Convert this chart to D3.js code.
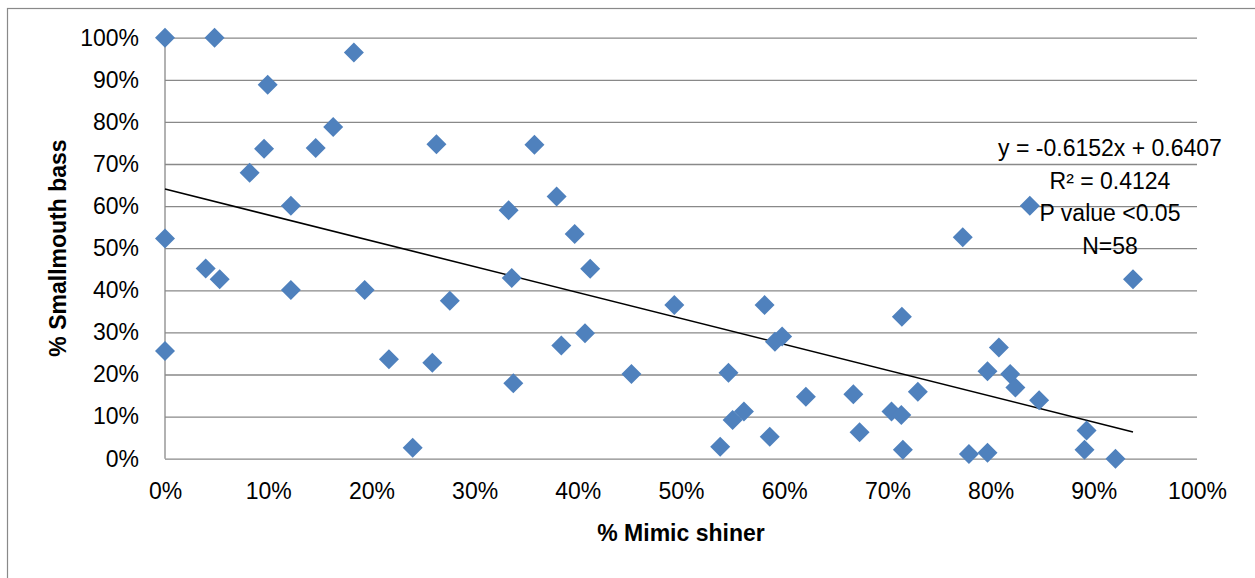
<!DOCTYPE html>
<html lang="en">
<head>
  <meta charset="UTF-8">
  <title>Mimic shiner vs Smallmouth bass</title>
  <style>
    body {
      margin: 0;
      padding: 0;
      background: #fff;
    }
    svg text {
      font-family: "Liberation Sans", Arial, sans-serif;
      fill: #000;
    }
    .axis-title {
      font-weight: bold;
    }
  </style>
</head>
<body>
  <div id="chart"></div>

  <script src="https://d3js.org/d3.v7.min.js"></script>
  <script>
    // data (percent)
    const mimicShiner = [
      0, 4.8, 18.3, 9.95, 16.3, 9.6, 14.6, 8.2, 12.2, 0,
      26.3, 35.8, 37.95, 33.3, 39.7, 3.94, 5.3, 12.2, 19.35, 0,
      21.7, 24.0, 27.6, 25.9, 33.6, 33.75, 41.2, 38.4, 40.7, 45.2,
      49.35, 54.6, 53.8, 55.0, 56.1, 58.1, 59.1, 59.8, 58.6, 62.1,
      66.7, 67.3, 71.4, 70.4, 71.35, 71.5, 72.95, 77.9, 79.7, 79.7,
      80.8, 81.9, 82.4, 84.7, 89.3, 89.1, 92.1, 93.8, 83.8, 77.3
    ];
    const smallmouthBass = [
      100, 100, 96.5, 88.8, 78.8, 73.6, 73.8, 67.9, 60.1, 52.3,
      74.7, 74.6, 62.3, 59.0, 53.4, 45.2, 42.6, 40.1, 40.1, 25.6,
      23.6, 2.6, 37.5, 22.8, 42.9, 17.9, 45.1, 26.9, 29.8, 20.1,
      36.5, 20.4, 2.85, 9.2, 11.2, 36.5, 27.8, 29.0, 5.2, 14.7,
      15.3, 6.3, 33.7, 11.2, 10.4, 2.1, 15.9, 1.1, 1.4, 20.8,
      26.4, 20.1, 16.9, 13.9, 6.7, 2.1, 0, 42.6, 60.1, 52.6
    ];
    const xTicks = [0, 10, 20, 30, 40, 50, 60, 70, 80, 90, 100];
    const yTicks = [0, 10, 20, 30, 40, 50, 60, 70, 80, 90, 100];

    // linear trend shown on the chart
    const trendSlope = -0.6152;
    const trendIntercept = 0.6407;
    const statsLines = ["y = -0.6152x + 0.6407", "R\u00b2 = 0.4124", "P value <0.05", "N=58"];

    const width = 1255;
    const height = 578;
    const plotLeft = 165, plotRight = 1197, plotTop = 37.7, plotBottom = 458.7;
    const fontSize = 23;

    const svg = d3.select("#chart")
      .append("svg")
      .attr("width", width)
      .attr("height", height);

    // outer chart frame
    svg.append("rect")
      .attr("x", 7.5)
      .attr("y", 8.5)
      .attr("width", 1300)
      .attr("height", 700)
      .attr("fill", "none")
      .attr("stroke", "#898989")
      .attr("stroke-width", 1.2);

    const x = d3.scaleLinear().domain([0, 100]).range([plotLeft, plotRight]);
    const y = d3.scaleLinear().domain([0, 100]).range([plotBottom, plotTop]);

    // horizontal gridlines + y labels
    const yAxis = svg.append("g")
      .attr("transform", `translate(${plotLeft},0)`)
      .call(d3.axisLeft(y)
        .tickValues(yTicks)
        .tickSizeInner(-(plotRight - plotLeft))
        .tickSizeOuter(0)
        .tickPadding(26)
        .tickFormat(d => d + "%"));
    yAxis.select(".domain").remove();
    yAxis.selectAll("line")
      .attr("stroke", "#898989")
      .attr("stroke-width", 1.3);
    yAxis.selectAll("text")
      .attr("font-size", fontSize)
      .attr("font-family", "'Liberation Sans', Arial, sans-serif");

    // vertical axis line
    svg.append("line")
      .attr("x1", x(0)).attr("x2", x(0))
      .attr("y1", y(100)).attr("y2", y(0))
      .attr("stroke", "#898989")
      .attr("stroke-width", 1.3);

    // x labels
    const xAxis = svg.append("g")
      .attr("transform", `translate(0,${plotBottom})`)
      .call(d3.axisBottom(x)
        .tickValues(xTicks)
        .tickSize(0)
        .tickPadding(24)
        .tickFormat(d => d + "%"));
    xAxis.select(".domain").remove();
    xAxis.selectAll("text")
      .attr("font-size", fontSize)
      .attr("font-family", "'Liberation Sans', Arial, sans-serif");

    // trendline from 0 to the largest x
    const maxX = d3.max(mimicShiner);
    svg.append("line")
      .attr("x1", x(0))
      .attr("y1", y(trendIntercept * 100))
      .attr("x2", x(maxX))
      .attr("y2", y((trendSlope * maxX / 100 + trendIntercept) * 100))
      .attr("stroke", "#000")
      .attr("stroke-width", 1.6);

    // diamond markers
    const points = mimicShiner.map((v, i) => ({ x: v, y: smallmouthBass[i] }));
    svg.selectAll("path.pt")
      .data(points)
      .enter()
      .append("path")
      .attr("class", "pt")
      .attr("d", "M0,-10L10,0L0,10L-10,0Z")
      .attr("transform", d => `translate(${x(d.x)},${y(d.y)})`)
      .attr("fill", "#4F81BD");

    // equation / stats label
    svg.selectAll("text.stats")
      .data(statsLines)
      .enter()
      .append("text")
      .attr("class", "stats")
      .attr("x", 1110)
      .attr("y", (d, i) => 156 + i * 32.5)
      .attr("text-anchor", "middle")
      .attr("font-size", fontSize)
      .text(d => d);

    // axis titles
    svg.append("text")
      .attr("class", "axis-title")
      .attr("x", (plotLeft + plotRight) / 2)
      .attr("y", 541)
      .attr("text-anchor", "middle")
      .attr("font-size", fontSize)
      .text("% Mimic shiner");

    svg.append("text")
      .attr("class", "axis-title")
      .attr("transform", "translate(66,248) rotate(-90)")
      .attr("text-anchor", "middle")
      .attr("font-size", fontSize)
      .text("% Smallmouth bass");
  </script>
</body>
</html>
